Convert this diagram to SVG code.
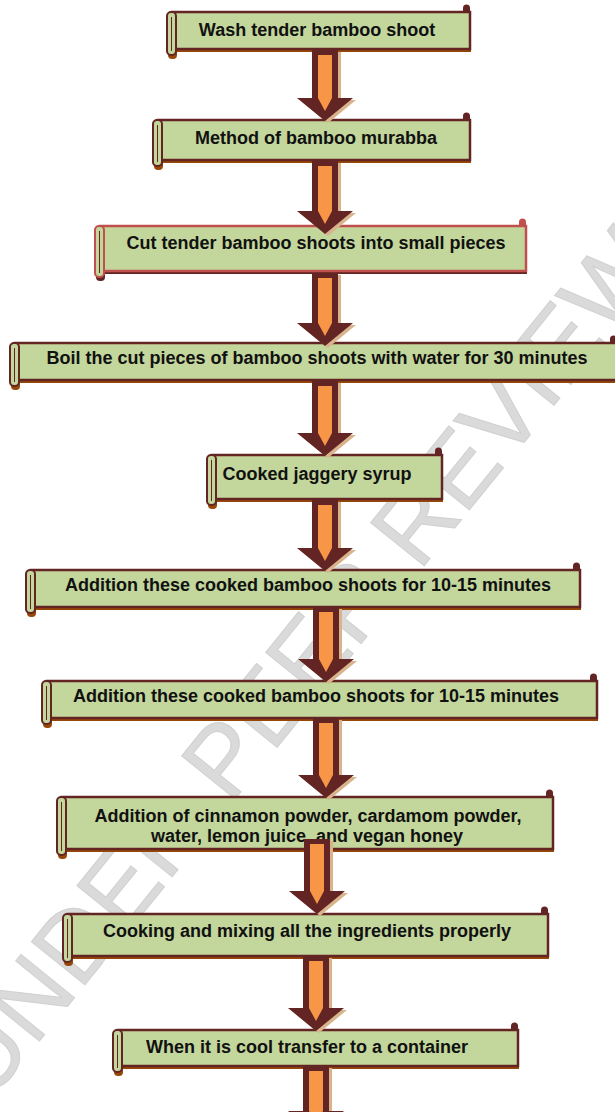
<svg xmlns="http://www.w3.org/2000/svg" width="615" height="1112" viewBox="0 0 615 1112">
<defs>
<style>
.body{fill:#c3d69b;stroke:#632523;stroke-width:2.5}
.body3{fill:#c3d69b;stroke:#c0504d;stroke-width:2.5}
.shadow{fill:#974806}
.shadow3{fill:#632523}
.roll{fill:#c3d69b;stroke:#632523;stroke-width:2}
.roll3{fill:#c3d69b;stroke:#c0504d;stroke-width:2}
.knob{fill:#632523}
.knob3{fill:#c0504d}
.inner{stroke:#632523;stroke-width:1;fill:none}
.lbl{font-family:"Liberation Sans",Arial,sans-serif;font-weight:bold;font-size:18px;fill:#111;text-anchor:middle}
.arr{fill:#632523}
.arrin{fill:#f79646}
.arrsh{fill:#d9b38c}
.wm{font-family:"Liberation Sans",Arial,sans-serif;font-size:100px;fill:#dadada;stroke:#d0d0d0;stroke-width:1;text-anchor:middle}
</style>
</defs>
<rect width="615" height="1112" fill="#ffffff"/>
<g id="watermark">
<text class="wm" transform="translate(300,662) rotate(-51)" y="36">UNDER PEER REVIEW</text>
</g>
<g id="n1">
<rect class="shadow" x="171" y="15" width="300" height="37"/>
<rect class="body" x="172" y="12" width="298" height="37"/>
<path class="knob" d="M463 12 v-4 a3.5 3.5 0 0 1 7 0 v4 z"/>
<rect class="shadow" x="168" y="15" width="9" height="44" rx="4"/>
<rect class="roll" x="167" y="12" width="9" height="43" rx="4"/>
<line class="inner" x1="171.5" y1="17" x2="171.5" y2="51"/>
<text class="lbl" x="317" y="36">Wash tender bamboo shoot</text>
</g>
<g id="n2">
<rect class="shadow" x="157" y="123" width="314" height="40"/>
<rect class="body" x="158" y="120" width="312" height="40"/>
<path class="knob" d="M463 120 v-4 a3.5 3.5 0 0 1 7 0 v4 z"/>
<rect class="shadow" x="154" y="123" width="9" height="47" rx="4"/>
<rect class="roll" x="153" y="120" width="9" height="46" rx="4"/>
<line class="inner" x1="157.5" y1="125" x2="157.5" y2="162"/>
<text class="lbl" x="316" y="144">Method of bamboo murabba</text>
</g>
<g id="n3">
<rect class="shadow3" x="99" y="229" width="428" height="45"/>
<rect class="body3" x="100" y="226" width="426" height="45"/>
<path class="knob3" d="M519 226 v-4 a3.5 3.5 0 0 1 7 0 v4 z"/>
<rect class="shadow3" x="96" y="229" width="9" height="52" rx="4"/>
<rect class="roll3" x="95" y="226" width="9" height="51" rx="4"/>
<line class="inner" x1="99.5" y1="231" x2="99.5" y2="273" stroke="#c0504d"/>
<text class="lbl" x="316" y="249">Cut tender bamboo shoots into small pieces</text>
</g>
<g id="n4">
<rect class="shadow" x="14" y="346" width="604" height="37"/>
<rect class="body" x="15" y="343" width="602" height="37"/>
<path class="knob" d="M610 343 v-4 a3.5 3.5 0 0 1 7 0 v4 z"/>
<rect class="shadow" x="11" y="346" width="9" height="44" rx="4"/>
<rect class="roll" x="10" y="343" width="9" height="43" rx="4"/>
<line class="inner" x1="14.5" y1="348" x2="14.5" y2="382"/>
<text class="lbl" x="317" y="364">Boil the cut pieces of bamboo shoots with water for 30 minutes</text>
</g>
<g id="n5">
<rect class="shadow" x="211" y="458" width="232" height="44"/>
<rect class="body" x="212" y="455" width="230" height="44"/>
<path class="knob" d="M435 455 v-4 a3.5 3.5 0 0 1 7 0 v4 z"/>
<rect class="shadow" x="208" y="458" width="9" height="51" rx="4"/>
<rect class="roll" x="207" y="455" width="9" height="50" rx="4"/>
<line class="inner" x1="211.5" y1="460" x2="211.5" y2="501"/>
<text class="lbl" x="317" y="480">Cooked jaggery syrup</text>
</g>
<g id="n6">
<rect class="shadow" x="30" y="573" width="551" height="37"/>
<rect class="body" x="31" y="570" width="549" height="37"/>
<path class="knob" d="M573 570 v-4 a3.5 3.5 0 0 1 7 0 v4 z"/>
<rect class="shadow" x="27" y="573" width="9" height="44" rx="4"/>
<rect class="roll" x="26" y="570" width="9" height="43" rx="4"/>
<line class="inner" x1="30.5" y1="575" x2="30.5" y2="609"/>
<text class="lbl" x="308" y="591">Addition these cooked bamboo shoots for 10-15 minutes</text>
</g>
<g id="n7">
<rect class="shadow" x="46" y="684" width="552" height="37"/>
<rect class="body" x="47" y="681" width="550" height="37"/>
<path class="knob" d="M590 681 v-4 a3.5 3.5 0 0 1 7 0 v4 z"/>
<rect class="shadow" x="43" y="684" width="9" height="44" rx="4"/>
<rect class="roll" x="42" y="681" width="9" height="43" rx="4"/>
<line class="inner" x1="46.5" y1="686" x2="46.5" y2="720"/>
<text class="lbl" x="316" y="702">Addition these cooked bamboo shoots for 10-15 minutes</text>
</g>
<g id="n8">
<rect class="shadow" x="61" y="800" width="493" height="52"/>
<rect class="body" x="62" y="797" width="491" height="52"/>
<path class="knob" d="M546 797 v-4 a3.5 3.5 0 0 1 7 0 v4 z"/>
<rect class="shadow" x="58" y="800" width="9" height="59" rx="4"/>
<rect class="roll" x="57" y="797" width="9" height="58" rx="4"/>
<line class="inner" x1="61.5" y1="802" x2="61.5" y2="851"/>
<text class="lbl" x="308" y="821.5">Addition of cinnamon powder, cardamom powder,</text>
<text class="lbl" x="307" y="842">water, lemon juice, and vegan honey</text>
</g>
<g id="n9">
<rect class="shadow" x="67" y="917" width="482" height="42"/>
<rect class="body" x="68" y="914" width="480" height="42"/>
<path class="knob" d="M541 914 v-4 a3.5 3.5 0 0 1 7 0 v4 z"/>
<rect class="shadow" x="64" y="917" width="9" height="49" rx="4"/>
<rect class="roll" x="63" y="914" width="9" height="48" rx="4"/>
<line class="inner" x1="67.5" y1="919" x2="67.5" y2="958"/>
<text class="lbl" x="307" y="936.5">Cooking and mixing all the ingredients properly</text>
</g>
<g id="n10">
<rect class="shadow" x="117" y="1033" width="402" height="36"/>
<rect class="body" x="118" y="1030" width="400" height="36"/>
<path class="knob" d="M511 1030 v-4 a3.5 3.5 0 0 1 7 0 v4 z"/>
<rect class="shadow" x="114" y="1033" width="9" height="43" rx="4"/>
<rect class="roll" x="113" y="1030" width="9" height="42" rx="4"/>
<line class="inner" x1="117.5" y1="1035" x2="117.5" y2="1068"/>
<text class="lbl" x="307" y="1053">When it is cool transfer to a container</text>
</g>
<g id="connectors">
<g id="a1"><polygon class="arrsh" transform="translate(3,2)" points="312,50 338,50 338,98 353,98 325,121 297,98 312,98"/><polygon class="arr" points="312,50 338,50 338,98 353,98 325,121 297,98 312,98"/><polygon class="arrin" points="318,55 332,55 332,98 325,111 318,98"/></g>
<g id="a2"><polygon class="arrsh" transform="translate(3,2)" points="312,161 338,161 338,211 353,211 325,234 297,211 312,211"/><polygon class="arr" points="312,161 338,161 338,211 353,211 325,234 297,211 312,211"/><polygon class="arrin" points="318,166 332,166 332,211 325,224 318,211"/></g>
<g id="a3"><polygon class="arrsh" transform="translate(3,2)" points="312,273 338,273 338,323 353,323 325,346 297,323 312,323"/><polygon class="arr" points="312,273 338,273 338,323 353,323 325,346 297,323 312,323"/><polygon class="arrin" points="318,278 332,278 332,323 325,336 318,323"/></g>
<g id="a4"><polygon class="arrsh" transform="translate(3,2)" points="312,381 338,381 338,433 353,433 325,456 297,433 312,433"/><polygon class="arr" points="312,381 338,381 338,433 353,433 325,456 297,433 312,433"/><polygon class="arrin" points="318,386 332,386 332,433 325,446 318,433"/></g>
<g id="a5"><polygon class="arrsh" transform="translate(3,2)" points="312,500 338,500 338,548 353,548 325,571 297,548 312,548"/><polygon class="arr" points="312,500 338,500 338,548 353,548 325,571 297,548 312,548"/><polygon class="arrin" points="318,505 332,505 332,548 325,561 318,548"/></g>
<g id="a6"><polygon class="arrsh" transform="translate(3,2)" points="313,607 339,607 339,659 354,659 326,682 298,659 313,659"/><polygon class="arr" points="313,607 339,607 339,659 354,659 326,682 298,659 313,659"/><polygon class="arrin" points="319,612 333,612 333,659 326,672 319,659"/></g>
<g id="a7"><polygon class="arrsh" transform="translate(3,2)" points="313,718 339,718 339,775 354,775 326,798 298,775 313,775"/><polygon class="arr" points="313,718 339,718 339,775 354,775 326,798 298,775 313,775"/><polygon class="arrin" points="319,723 333,723 333,775 326,788 319,775"/></g>
<g id="a8"><polygon class="arrsh" transform="translate(3,2)" points="304,839 330,839 330,891 345,891 317,914 289,891 304,891"/><polygon class="arr" points="304,839 330,839 330,891 345,891 317,914 289,891 304,891"/><polygon class="arrin" points="310,844 324,844 324,891 317,904 310,891"/></g>
<g id="a9"><polygon class="arrsh" transform="translate(3,2)" points="303,956 329,956 329,1008 344,1008 316,1031 288,1008 303,1008"/><polygon class="arr" points="303,956 329,956 329,1008 344,1008 316,1031 288,1008 303,1008"/><polygon class="arrin" points="309,961 323,961 323,1008 316,1021 309,1008"/></g>
<g id="a10"><polygon class="arrsh" transform="translate(3,2)" points="303,1066 329,1066 329,1111 344,1111 316,1134 288,1111 303,1111"/><polygon class="arr" points="303,1066 329,1066 329,1111 344,1111 316,1134 288,1111 303,1111"/><polygon class="arrin" points="309,1071 323,1071 323,1111 316,1124 309,1111"/></g>
</g>
</svg>
